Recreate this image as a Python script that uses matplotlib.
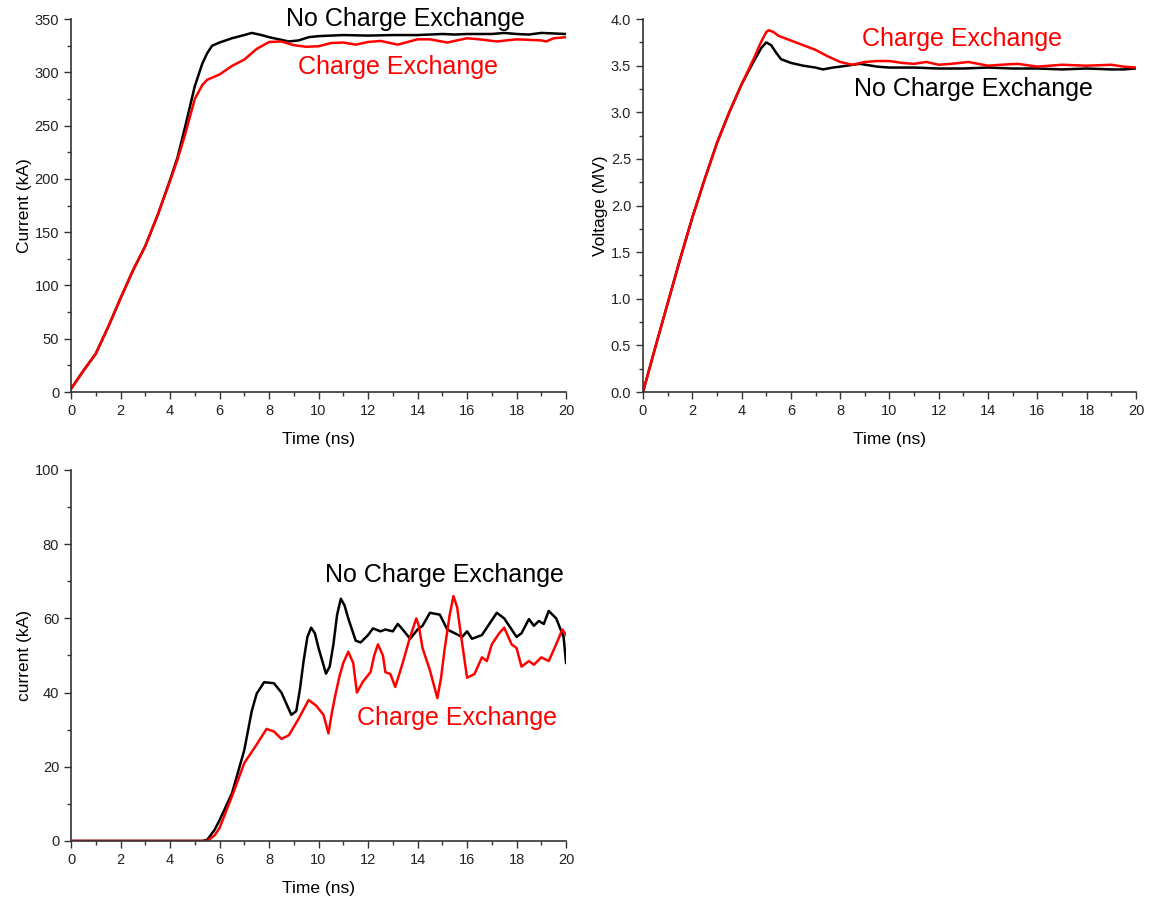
import numpy as np
import matplotlib.pyplot as plt
from matplotlib.ticker import MultipleLocator

plt.rcParams['font.family'] = ['Liberation Sans', 'DejaVu Sans']

# Current (kA), top-left panel
t_cur_nc = [0, 0.5, 1, 1.5, 2, 2.5, 3, 3.5, 4, 4.3, 4.6, 5, 5.3, 5.5, 5.7, 6, 6.5, 7, 7.3, 7.7, 8, 8.4, 8.8, 9.2, 9.6, 10, 10.5, 11, 12, 13, 14, 15, 15.5, 16, 17, 17.5, 18, 18.5, 19, 19.5, 20]
i_cur_nc = [3, 20, 36, 61, 88, 114, 137, 166, 199, 220, 248, 287, 308, 318, 325, 328, 332, 335, 337, 335, 333, 331, 329, 330, 333, 334, 334.5, 335, 334.5, 335, 335, 336, 335.5, 336, 336, 337, 336, 335.5, 337, 336.5, 336]
t_cur_cx = [0, 0.5, 1, 1.5, 2, 2.5, 3, 3.5, 4, 4.3, 4.6, 5, 5.3, 5.5, 6, 6.5, 7, 7.5, 8, 8.5, 9, 9.5, 10, 10.5, 11, 11.5, 12, 12.5, 13.2, 14, 14.5, 15.2, 16, 16.5, 17.2, 18, 18.5, 19, 19.2, 19.5, 20]
i_cur_cx = [3, 20, 36, 61, 88, 114, 137, 166, 198, 218, 241, 275, 288, 293, 298, 306, 312, 322, 328.5, 329, 325.5, 324, 324.5, 327.5, 328, 326, 328.5, 329.5, 326, 331, 331, 328, 332, 331, 329, 331, 330.5, 330, 329, 332, 333]

# Voltage (MV), top-right panel
t_volt_nc = [0, 0.5, 1, 1.5, 2, 2.5, 3, 3.5, 4, 4.5, 4.8, 5.0, 5.2, 5.4, 5.6, 5.8, 6, 6.5, 7, 7.3, 7.7, 8, 8.8, 9.5, 10, 11, 12, 13, 14, 15, 16, 17, 18, 19, 19.5, 20]
v_volt_nc = [0, 0.48, 0.95, 1.42, 1.87, 2.28, 2.67, 3.0, 3.3, 3.55, 3.69, 3.75, 3.72, 3.64, 3.57, 3.55, 3.53, 3.5, 3.48, 3.46, 3.48, 3.49, 3.52, 3.49, 3.48, 3.48, 3.47, 3.47, 3.48, 3.47, 3.47, 3.46, 3.47, 3.46, 3.46, 3.47]
t_volt_cx = [0, 0.5, 1, 1.5, 2, 2.5, 3, 3.5, 4, 4.5, 4.8, 5.0, 5.1, 5.3, 5.5, 6, 6.5, 7, 7.5, 8, 8.5, 9, 9.5, 10, 10.5, 11, 11.5, 12, 12.5, 13.2, 14, 14.5, 15.2, 16, 16.5, 17, 18, 19, 19.5, 20]
v_volt_cx = [0, 0.48, 0.95, 1.42, 1.87, 2.28, 2.67, 3.0, 3.3, 3.58, 3.76, 3.86, 3.88, 3.86, 3.82, 3.77, 3.72, 3.67, 3.6, 3.54, 3.51, 3.54, 3.55, 3.55, 3.53, 3.52, 3.54, 3.51, 3.52, 3.54, 3.5, 3.51, 3.52, 3.49, 3.5, 3.51, 3.5, 3.51, 3.49, 3.48]

# current (kA), bottom panel
t_low_nc = [0, 5.0, 5.3, 5.5, 5.8, 6, 6.5, 7, 7.3, 7.5, 7.8, 8.2, 8.5, 8.9, 9.1, 9.25, 9.4, 9.55, 9.7, 9.85, 10, 10.3, 10.45, 10.6, 10.75, 10.9, 11.05, 11.2, 11.5, 11.7, 12, 12.2, 12.5, 12.7, 13, 13.2, 13.4, 13.7, 14, 14.2, 14.5, 14.9, 15.2, 15.5, 15.8, 16, 16.2, 16.6, 17, 17.2, 17.5, 17.8, 18, 18.2, 18.5, 18.7, 18.9, 19.1, 19.3, 19.6, 19.9, 20]
i_low_nc = [0, 0, 0, 0.3, 3, 5.6, 12.8, 24.5, 35, 39.7, 42.8, 42.5, 40, 34, 35, 41, 48.7, 55, 57.5, 56, 52, 45.1, 47, 53, 61, 65.3, 63.5, 60, 54, 53.5, 55.5, 57.3, 56.5, 57, 56.5, 58.5, 57, 54.5, 57, 58, 61.5, 61, 57, 56, 55, 56.5, 54.5, 55.5, 59.5, 61.5, 60, 57, 55, 56, 59.8, 58, 59.3, 58.5, 62, 60, 55, 48]
t_low_cx = [0, 5.3, 5.5, 5.8, 6, 6.5, 7, 7.5, 7.9, 8.2, 8.5, 8.8, 9.2, 9.6, 9.9, 10.2, 10.4, 10.55, 10.7, 10.85, 11, 11.2, 11.4, 11.55, 11.8, 12.1, 12.25, 12.4, 12.6, 12.7, 12.9, 13.1, 13.4, 13.7, 13.85, 13.95, 14.05, 14.2, 14.5, 14.8, 14.95, 15.1, 15.3, 15.45, 15.6, 15.7, 16, 16.3, 16.6, 16.8, 17, 17.3, 17.5, 17.8, 18, 18.2, 18.5, 18.7, 19, 19.3, 19.6, 19.85, 20]
i_low_cx = [0, 0, 0, 1.5, 3.5, 12, 21, 26, 30.2, 29.5, 27.5, 28.5, 33, 38, 36.5, 34, 29, 35, 40, 44.5, 48, 51, 48, 40, 43, 45.5, 50, 53, 50, 45.5, 45, 41.5, 48, 55, 58, 60, 58, 52, 46, 38.5, 44, 52, 61, 66, 63, 58, 44, 45, 49.5, 48.5, 53, 56, 57.5, 53, 52, 47, 48.5, 47.5, 49.5, 48.5, 53, 57, 55.5]

fig = plt.figure(figsize=(11.55, 9), dpi=100)
ax1 = fig.add_axes([0.0615, 0.5644, 0.4286, 0.4144])
ax2 = fig.add_axes([0.5567, 0.5644, 0.4268, 0.4144])
ax3 = fig.add_axes([0.0615, 0.0656, 0.4286, 0.4122])


def style(ax, ymax, ymaj, ylabel, yfmt):
    ax.set_xlim(0, 20)
    ax.set_ylim(0, ymax)
    ax.xaxis.set_major_locator(MultipleLocator(2))
    ax.xaxis.set_minor_locator(MultipleLocator(1))
    ax.yaxis.set_major_locator(MultipleLocator(ymaj))
    ax.yaxis.set_minor_locator(MultipleLocator(ymaj / 2))
    ax.yaxis.set_major_formatter(yfmt)
    for s in ['top', 'right']:
        ax.spines[s].set_visible(False)
    for s in ['left', 'bottom']:
        ax.spines[s].set_color('#333333')
        ax.spines[s].set_linewidth(1.2)
    ax.tick_params(which='major', direction='out', length=5, width=1, colors='#333333', labelsize=10.5, labelcolor='#222222')
    ax.tick_params(which='minor', direction='out', length=3, width=1, colors='#333333')
    ax.set_xlabel('Time (ns)', fontsize=12.5, labelpad=10)
    ax.set_ylabel(ylabel, fontsize=12.5, labelpad=2)


ax1.plot(t_cur_nc, i_cur_nc, color='black', lw=1.8)
ax1.plot(t_cur_cx, i_cur_cx, color='red', lw=1.8)
style(ax1, 350, 50, 'Current (kA)', '{x:.0f}')
ax1.text(13.5, 350, 'No Charge Exchange', color='black', fontsize=18, ha='center', va='center')
ax1.text(13.2, 305, 'Charge Exchange', color='red', fontsize=18, ha='center', va='center')

ax2.plot(t_volt_nc, v_volt_nc, color='black', lw=1.8)
ax2.plot(t_volt_cx, v_volt_cx, color='red', lw=1.8)
style(ax2, 4.0, 0.5, 'Voltage (MV)', '{x:.1f}')
ax2.text(12.95, 3.79, 'Charge Exchange', color='red', fontsize=18, ha='center', va='center')
ax2.text(13.4, 3.25, 'No Charge Exchange', color='black', fontsize=18, ha='center', va='center')

ax3.plot(t_low_nc, i_low_nc, color='black', lw=1.8)
ax3.plot(t_low_cx, i_low_cx, color='red', lw=1.8)
style(ax3, 100, 20, 'current (kA)', '{x:.0f}')
ax3.text(15.1, 71.7, 'No Charge Exchange', color='black', fontsize=18, ha='center', va='center')
ax3.text(15.6, 33.1, 'Charge Exchange', color='red', fontsize=18, ha='center', va='center')

fig.savefig('out.png', dpi=100)
